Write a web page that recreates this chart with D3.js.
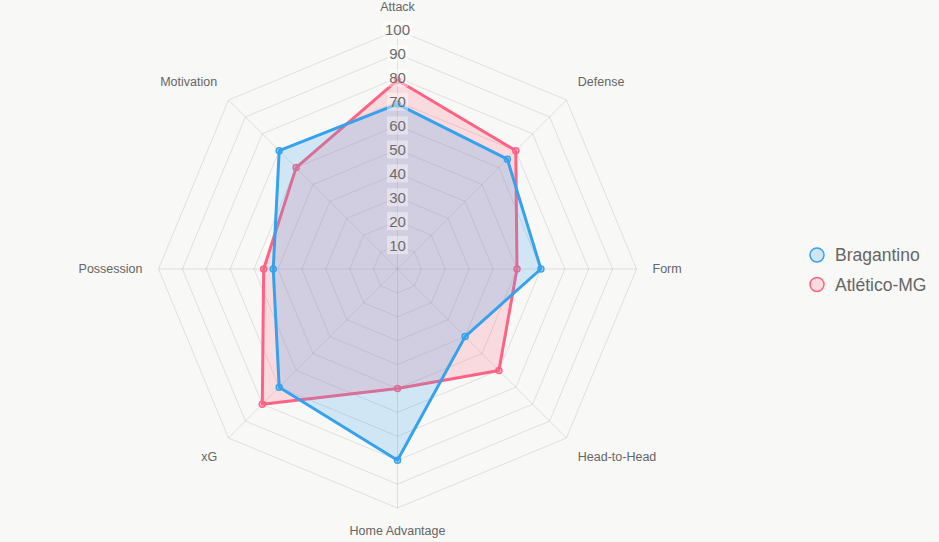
<!DOCTYPE html>
<html>
	<head>
		<meta charset="utf-8">
		<title></title>
		<script src="https://d3js.org/d3.v7.min.js"></script>
		<style>
			body { margin: 0; background: #f8f8f7; }
			svg { display: block; font-family: "Liberation Sans", Arial, sans-serif; }
		</style>
	</head>
	<body>

		<div class="main_div"></div>
		<script>

			// Dados
			var categories = ["Attack", "Defense", "Form", "Head-to-Head", "Home Advantage", "xG", "Possession", "Motivation"];
			var bragantino = [69, 65, 60, 40, 80, 70, 52, 70];
			var atletico = [79, 70, 50, 60, 50, 80, 56, 60];
			var seriesNames = ["Bragantino", "Atlético-MG"];
			var ticks = [10, 20, 30, 40, 50, 60, 70, 80, 90, 100];

			var colors = ["#36A2EB", "#FF6384"];
			var fills = ["rgba(54,162,235,0.2)", "rgba(255,99,132,0.2)"];

			var width = 939, height = 542;
			var cx = 397.5, cy = 269;

			var svg = d3.select(".main_div")
							.append("svg")
							.attr("width", width)
							.attr("height", height);

			svg.append("rect").attr("width", width).attr("height", height).attr("fill", "#f8f8f7");

			// Escalas
			var rScale = d3.scaleLinear().domain([0, 100]).range([0, 239]);
			var aScale = d3.scaleLinear().domain([0, categories.length]).range([0, 2 * Math.PI]);

			function pos(i, r) {
				var a = aScale(i);
				return [cx + r * Math.sin(a), cy - r * Math.cos(a)];
			}

			var canvas = svg.append("g");

			// Grade (octogonos)
			canvas.selectAll("polygon.grid").data(ticks).enter().append("polygon")
				.attr("class", "grid")
				.attr("points", function(t){ return categories.map(function(c, i){ return pos(i, rScale(t)).join(","); }).join(" "); })
				.attr("fill", "none")
				.attr("stroke", "rgba(0,0,0,0.1)")
				.attr("stroke-width", 1);

			// Linhas dos angulos
			canvas.selectAll("line.angle").data(categories).enter().append("line")
				.attr("class", "angle")
				.attr("x1", cx).attr("y1", cy)
				.attr("x2", function(c, i){ return pos(i, rScale(100))[0]; })
				.attr("y2", function(c, i){ return pos(i, rScale(100))[1]; })
				.attr("stroke", "rgba(0,0,0,0.1)")
				.attr("stroke-width", 1);

			// Series (Atletico primeiro, Bragantino por cima)
			var series = [bragantino, atletico];
			[1, 0].forEach(function(s){
				var vals = series[s];
				var g = canvas.append("g");
				g.append("polygon")
					.attr("points", vals.map(function(v, i){ return pos(i, rScale(v)).join(","); }).join(" "))
					.attr("fill", fills[s])
					.attr("stroke", colors[s])
					.attr("stroke-width", 3)
					.attr("stroke-linejoin", "round");
				g.selectAll("circle").data(vals).enter().append("circle")
					.attr("cx", function(v, i){ return pos(i, rScale(v))[0]; })
					.attr("cy", function(v, i){ return pos(i, rScale(v))[1]; })
					.attr("r", 3)
					.attr("fill", fills[s])
					.attr("stroke", colors[s])
					.attr("stroke-width", 1.5);
			});

			// Rotulos dos ticks
			var tickG = canvas.selectAll("g.tick").data(ticks).enter().append("g").attr("class", "tick");
			tickG.append("rect")
				.attr("x", function(t){ return cx - (t == 100 ? 15 : 10.5); })
				.attr("y", function(t){ return cy - rScale(t) - 9; })
				.attr("width", function(t){ return t == 100 ? 30 : 21; })
				.attr("height", 18)
				.attr("fill", "rgba(255,255,255,0.4)");
			tickG.append("text")
				.attr("x", cx)
				.attr("y", function(t){ return cy - rScale(t); })
				.attr("dy", "0.36em")
				.attr("text-anchor", "middle")
				.attr("font-size", 15)
				.attr("fill", "#6b6b6b")
				.text(function(t){ return t; });

			// Rotulos das categorias
			canvas.selectAll("text.label").data(categories).enter().append("text")
				.attr("class", "label")
				.attr("x", function(c, i){ return pos(i, 255)[0]; })
				.attr("y", function(c, i){ return pos(i, 255)[1]; })
				.attr("text-anchor", function(c, i){
					var x = Math.sin(aScale(i));
					return Math.abs(x) < 0.01 ? "middle" : (x > 0 ? "start" : "end");
				})
				.attr("dy", function(c, i){
					var y = Math.cos(aScale(i));
					return Math.abs(y) < 0.01 ? "0.35em" : (y > 0 ? "-0.25em" : "0.9em");
				})
				.attr("font-size", 12.5)
				.attr("fill", "#666")
				.text(function(c){ return c; });

			// Legenda
			var legend = svg.selectAll("g.legend").data(seriesNames).enter().append("g")
				.attr("class", "legend")
				.attr("transform", function(d, i){ return "translate(817," + (255 + i * 29.5) + ")"; });
			legend.append("circle")
				.attr("r", 7)
				.attr("fill", function(d, i){ return fills[i]; })
				.attr("stroke", function(d, i){ return colors[i]; })
				.attr("stroke-width", 1.5);
			legend.append("text")
				.attr("x", 18)
				.attr("dy", "0.36em")
				.attr("font-size", 17.5)
				.attr("fill", "#666")
				.text(function(d){ return d; });

		</script>
	</body>
</html>
